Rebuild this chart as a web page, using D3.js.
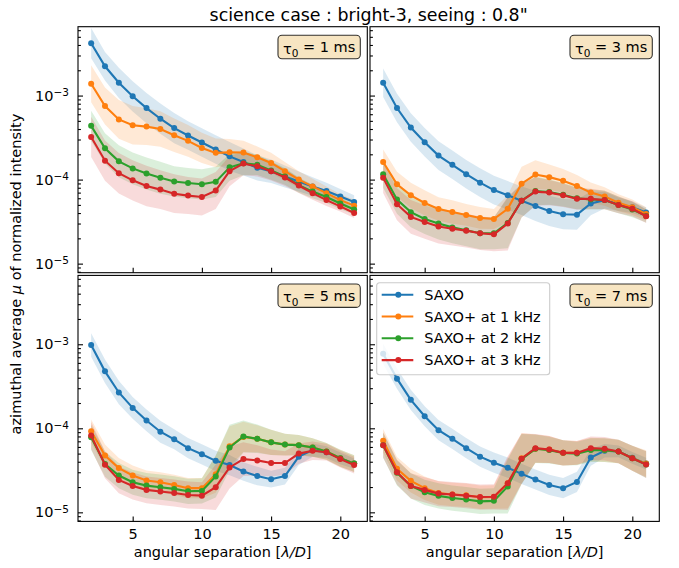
<!DOCTYPE html>
<html>
<head>
<meta charset="utf-8">
<script src="https://cdn.jsdelivr.net/npm/d3@7"></script>
<style>
  body { margin: 0; background: #fff; }
  text { font-family: "DejaVu Sans", sans-serif; }
</style>
</head>
<body>
<div id="chart-area"></div>
<script>
/*
 *    coronagraph contrast curves, 4 panels
 */

// separation in lambda/D
const separation = [2, 3, 4, 5, 6, 7, 8, 9, 10, 11, 12, 13, 14, 15, 16, 17, 18, 19, 20, 21];
const seriesNames = ["SAXO", "SAXO+ at 1 kHz", "SAXO+ at 2 kHz", "SAXO+ at 3 kHz"];
const tau0 = [1, 3, 5, 7];
const xTicks = [5, 10, 15, 20];
const yTicks = [1e-5, 1e-4, 1e-3];

// tau0 = 1 ms
const t1_saxo = [4.2e-3, 2.23e-3, 1.42e-3, 9.8e-4, 7.1e-4, 5.3e-4, 4.1e-4, 3.35e-4, 2.76e-4, 2.28e-4, 1.89e-4, 1.62e-4, 1.38e-4, 1.26e-4, 1.09e-4, 9.5e-5, 8.3e-5, 7.3e-5, 6.3e-5, 5.4e-5];
const t1_1k = [1.38e-3, 7.5e-4, 5.2e-4, 4.43e-4, 4.27e-4, 4.0e-4, 3.37e-4, 2.89e-4, 2.38e-4, 2.08e-4, 2.11e-4, 2.1e-4, 1.84e-4, 1.58e-4, 1.26e-4, 1.0e-4, 8.3e-5, 6.9e-5, 5.7e-5, 4.9e-5];
const t1_2k = [4.36e-4, 2.36e-4, 1.65e-4, 1.36e-4, 1.18e-4, 1.05e-4, 9.5e-5, 9.1e-5, 8.8e-5, 9.4e-5, 1.4e-4, 1.56e-4, 1.5e-4, 1.28e-4, 1.09e-4, 8.6e-5, 7.2e-5, 6.2e-5, 5.2e-5, 4.4e-5];
const t1_3k = [3.22e-4, 1.68e-4, 1.19e-4, 9.8e-5, 8.4e-5, 7.6e-5, 6.8e-5, 6.45e-5, 6.2e-5, 7.4e-5, 1.26e-4, 1.55e-4, 1.44e-4, 1.26e-4, 1.06e-4, 8.5e-5, 6.9e-5, 5.7e-5, 4.8e-5, 4.0e-5];

// tau0 = 3 ms
const t3_saxo = [1.42e-3, 7.1e-4, 4.16e-4, 2.78e-4, 1.93e-4, 1.5e-4, 1.16e-4, 9.2e-5, 7.5e-5, 6.5e-5, 5.6e-5, 4.86e-5, 4.24e-5, 3.87e-5, 3.83e-5, 5.2e-5, 5.7e-5, 5.1e-5, 4.7e-5, 4.05e-5];
const t3_1k = [1.62e-4, 8.8e-5, 6.5e-5, 5.27e-5, 4.48e-5, 4.12e-5, 3.8e-5, 3.5e-5, 3.4e-5, 4.5e-5, 8.95e-5, 1.15e-4, 1.07e-4, 9.7e-5, 8.4e-5, 7.0e-5, 6.3e-5, 5.3e-5, 4.7e-5, 3.9e-5];
const t3_2k = [1.16e-4, 5.8e-5, 4.1e-5, 3.4e-5, 3.0e-5, 2.7e-5, 2.5e-5, 2.3e-5, 2.3e-5, 3.05e-5, 5.6e-5, 7.3e-5, 7.1e-5, 6.6e-5, 6.0e-5, 5.8e-5, 5.7e-5, 5.0e-5, 4.4e-5, 3.7e-5];
const t3_3k = [1.05e-4, 5.1e-5, 3.6e-5, 3.13e-5, 2.76e-5, 2.6e-5, 2.47e-5, 2.3e-5, 2.23e-5, 3.0e-5, 5.6e-5, 7.2e-5, 7.0e-5, 6.5e-5, 5.9e-5, 5.9e-5, 5.7e-5, 5.0e-5, 4.5e-5, 3.66e-5];

// tau0 = 5 ms
const t5_saxo = [9.8e-4, 4.76e-4, 2.67e-4, 1.75e-4, 1.24e-4, 9.1e-5, 7.4e-5, 5.8e-5, 4.9e-5, 4.1e-5, 3.65e-5, 3.06e-5, 2.7e-5, 2.48e-5, 2.7e-5, 4.6e-5, 5.5e-5, 5.2e-5, 4.4e-5, 3.8e-5];
const t5_1k = [9.2e-5, 4.75e-5, 3.36e-5, 2.74e-5, 2.39e-5, 2.28e-5, 2.12e-5, 1.94e-5, 1.94e-5, 2.84e-5, 6.1e-5, 7.9e-5, 7.5e-5, 6.8e-5, 6.4e-5, 6.3e-5, 5.9e-5, 5.3e-5, 4.4e-5, 3.8e-5];
const t5_2k = [7.8e-5, 3.75e-5, 2.74e-5, 2.28e-5, 2.08e-5, 1.99e-5, 1.9e-5, 1.78e-5, 1.8e-5, 2.67e-5, 5.9e-5, 8.0e-5, 7.5e-5, 6.8e-5, 6.4e-5, 6.3e-5, 5.9e-5, 5.3e-5, 4.4e-5, 3.8e-5];
const t5_3k = [8.2e-5, 3.68e-5, 2.43e-5, 2.06e-5, 1.85e-5, 1.77e-5, 1.7e-5, 1.61e-5, 1.58e-5, 1.99e-5, 3.42e-5, 4.3e-5, 4.15e-5, 3.86e-5, 3.86e-5, 5.0e-5, 5.4e-5, 5.2e-5, 4.3e-5, 3.65e-5];

// tau0 = 7 ms
const t7_saxo = [7.7e-4, 3.9e-4, 2.18e-4, 1.39e-4, 9.5e-5, 7.5e-5, 5.8e-5, 4.6e-5, 3.9e-5, 3.4e-5, 2.87e-5, 2.46e-5, 2.12e-5, 1.94e-5, 2.3e-5, 4.5e-5, 5.4e-5, 5.3e-5, 4.45e-5, 3.8e-5];
const t7_1k = [7.1e-5, 3.3e-5, 2.37e-5, 1.94e-5, 1.7e-5, 1.63e-5, 1.6e-5, 1.51e-5, 1.52e-5, 2.22e-5, 4.4e-5, 5.7e-5, 5.6e-5, 5.1e-5, 5.1e-5, 5.6e-5, 5.5e-5, 5.3e-5, 4.4e-5, 3.8e-5];
const t7_2k = [6.3e-5, 2.95e-5, 2.06e-5, 1.73e-5, 1.57e-5, 1.48e-5, 1.42e-5, 1.35e-5, 1.37e-5, 2.03e-5, 4.3e-5, 5.7e-5, 5.5e-5, 5.1e-5, 5.0e-5, 5.5e-5, 5.5e-5, 5.3e-5, 4.4e-5, 3.7e-5];
const t7_3k = [6.3e-5, 3.0e-5, 2.06e-5, 1.85e-5, 1.67e-5, 1.63e-5, 1.58e-5, 1.52e-5, 1.53e-5, 2.22e-5, 4.34e-5, 5.8e-5, 5.6e-5, 5.1e-5, 5.1e-5, 5.8e-5, 5.7e-5, 5.3e-5, 4.4e-5, 3.7e-5];

// half width of the shaded dispersion, in decades
const t1_saxo_sd = [0.18, 0.17, 0.18, 0.18, 0.18, 0.18, 0.18, 0.17, 0.17, 0.17, 0.17, 0.16, 0.15, 0.14, 0.13, 0.12, 0.11, 0.10, 0.09, 0.08];
const t1_1k_sd = [0.22, 0.22, 0.23, 0.23, 0.22, 0.21, 0.20, 0.19, 0.18, 0.17, 0.16, 0.14, 0.13, 0.12, 0.11, 0.10, 0.09, 0.08, 0.07, 0.07];
const t1_2k_sd = [0.18, 0.18, 0.19, 0.19, 0.19, 0.19, 0.18, 0.18, 0.18, 0.18, 0.16, 0.14, 0.12, 0.11, 0.10, 0.09, 0.08, 0.07, 0.07, 0.06];
const t1_3k_sd = [0.24, 0.24, 0.24, 0.24, 0.24, 0.23, 0.23, 0.22, 0.22, 0.22, 0.18, 0.14, 0.12, 0.11, 0.10, 0.09, 0.08, 0.07, 0.06, 0.06];

const t3_saxo_sd = [0.17, 0.17, 0.17, 0.17, 0.17, 0.17, 0.17, 0.17, 0.17, 0.17, 0.17, 0.18, 0.18, 0.18, 0.18, 0.14, 0.10, 0.08, 0.07, 0.06];
const t3_1k_sd = [0.15, 0.15, 0.15, 0.15, 0.14, 0.14, 0.13, 0.13, 0.12, 0.16, 0.20, 0.17, 0.15, 0.14, 0.13, 0.12, 0.11, 0.10, 0.09, 0.08];
const t3_2k_sd = [0.16, 0.17, 0.18, 0.18, 0.19, 0.19, 0.19, 0.19, 0.19, 0.30, 0.20, 0.17, 0.15, 0.14, 0.13, 0.12, 0.11, 0.10, 0.09, 0.08];
const t3_3k_sd = [0.18, 0.19, 0.20, 0.20, 0.20, 0.20, 0.20, 0.20, 0.20, 0.32, 0.20, 0.17, 0.15, 0.14, 0.13, 0.12, 0.11, 0.10, 0.09, 0.08];

const t5_saxo_sd = [0.14, 0.14, 0.14, 0.13, 0.13, 0.13, 0.12, 0.12, 0.12, 0.12, 0.12, 0.11, 0.11, 0.10, 0.10, 0.10, 0.08, 0.07, 0.07, 0.06];
const t5_1k_sd = [0.14, 0.13, 0.12, 0.12, 0.12, 0.12, 0.12, 0.12, 0.12, 0.22, 0.24, 0.18, 0.16, 0.15, 0.13, 0.12, 0.11, 0.10, 0.10, 0.10];
const t5_2k_sd = [0.15, 0.15, 0.15, 0.15, 0.15, 0.15, 0.15, 0.15, 0.15, 0.25, 0.27, 0.19, 0.17, 0.15, 0.13, 0.12, 0.11, 0.10, 0.10, 0.10];
const t5_3k_sd = [0.16, 0.16, 0.16, 0.16, 0.16, 0.16, 0.16, 0.16, 0.16, 0.27, 0.25, 0.20, 0.18, 0.16, 0.14, 0.12, 0.11, 0.10, 0.10, 0.10];

const t7_saxo_sd = [0.12, 0.12, 0.12, 0.12, 0.12, 0.12, 0.12, 0.12, 0.12, 0.12, 0.12, 0.12, 0.12, 0.12, 0.12, 0.10, 0.08, 0.07, 0.07, 0.07];
const t7_1k_sd = [0.14, 0.14, 0.14, 0.14, 0.14, 0.14, 0.14, 0.14, 0.14, 0.30, 0.30, 0.17, 0.16, 0.15, 0.14, 0.14, 0.14, 0.14, 0.15, 0.16];
const t7_2k_sd = [0.15, 0.15, 0.15, 0.15, 0.15, 0.15, 0.15, 0.15, 0.15, 0.32, 0.30, 0.17, 0.16, 0.15, 0.14, 0.14, 0.14, 0.14, 0.15, 0.16];
const t7_3k_sd = [0.15, 0.15, 0.15, 0.15, 0.15, 0.15, 0.15, 0.15, 0.15, 0.32, 0.30, 0.17, 0.16, 0.15, 0.14, 0.14, 0.14, 0.14, 0.15, 0.16];

const panelMeans = [
    [t1_saxo, t1_1k, t1_2k, t1_3k],
    [t3_saxo, t3_1k, t3_2k, t3_3k],
    [t5_saxo, t5_1k, t5_2k, t5_3k],
    [t7_saxo, t7_1k, t7_2k, t7_3k]
];
const panelSpread = [
    [t1_saxo_sd, t1_1k_sd, t1_2k_sd, t1_3k_sd],
    [t3_saxo_sd, t3_1k_sd, t3_2k_sd, t3_3k_sd],
    [t5_saxo_sd, t5_1k_sd, t5_2k_sd, t5_3k_sd],
    [t7_saxo_sd, t7_1k_sd, t7_2k_sd, t7_3k_sd]
];

var colours = ["#1f77b4", "#ff7f0e", "#2ca02c", "#d62728"];

const width = 679;
const height = 568;
const plotLeft = 78, plotTop = 26.7;
const colW = 289.3, rowH = 246, gap = 2.7;
const fs = 14.5;

const svg = d3.select("#chart-area")
    .append("svg")
    .attr("width", width)
    .attr("height", height);

const x = d3.scaleLinear().domain([1.05, 21.95]).range([0, colW]);
const y = d3.scaleLog().domain([7.8e-6, 6.6e-3]).range([rowH, 0]);

// minor log ticks
var minors = [];
for (let e = -6; e <= -3; e++) {
    for (let m = 2; m <= 9; m++) {
        let v = m * Math.pow(10, e);
        if (v > y.domain()[0] && v < y.domain()[1]) minors.push(v);
    }
}

const area = d3.area()
    .x((d) => x(d.sep))
    .y0((d) => y(d.mu / Math.pow(10, d.sd)))
    .y1((d) => y(d.mu * Math.pow(10, d.sd)));
const line = d3.line()
    .x((d) => x(d.sep))
    .y((d) => y(d.mu));

tau0.forEach((tau, p) => {
    const col = p % 2, row = Math.floor(p / 2);
    const g = svg.append("g")
        .attr("transform", "translate(" + (plotLeft + col * (colW + gap)) + ", " + (plotTop + row * (rowH + gap)) + ")");

    g.append("clipPath").attr("id", "clip" + p)
        .append("rect").attr("width", colW).attr("height", rowH);

    const series = panelMeans[p].map((mu, s) =>
        separation.map((sep, i) => ({ sep: sep, mu: mu[i], sd: panelSpread[p][s][i] })));

    const plot = g.append("g").attr("clip-path", "url(#clip" + p + ")");

    plot.selectAll(".band")
        .data(series)
        .enter()
        .append("path")
        .attr("class", "band")
        .attr("d", area)
        .attr("fill", (d, i) => colours[i])
        .attr("fill-opacity", 0.17);

    series.forEach((d, s) => {
        plot.append("path")
            .attr("d", line(d))
            .attr("fill", "none")
            .attr("stroke", colours[s])
            .attr("stroke-width", 2.1);
        plot.selectAll(".dot" + s)
            .data(d)
            .enter()
            .append("circle")
            .attr("cx", (v) => x(v.sep))
            .attr("cy", (v) => y(v.mu))
            .attr("r", 3)
            .attr("fill", colours[s]);
    });

    // axes, ticks inward
    const bottomAxis = d3.axisBottom(x).tickValues(xTicks).tickSizeInner(-5).tickSizeOuter(0).tickPadding(7);
    if (row == 0) bottomAxis.tickFormat("");
    const xa = g.append("g")
        .attr("transform", "translate(0, " + rowH + ")")
        .call(bottomAxis);
    xa.select(".domain").remove();
    xa.selectAll("text").attr("font-size", fs + "px").attr("font-family", "DejaVu Sans").style("fill", "black");

    const leftAxis = d3.axisLeft(y).tickValues(yTicks).tickSizeInner(-5).tickSizeOuter(0).tickPadding(9);
    const ya = g.append("g").call(leftAxis);
    ya.select(".domain").remove();
    ya.selectAll("text").each(function (d) {
        const t = d3.select(this).text("")
            .attr("font-size", fs + "px").attr("font-family", "DejaVu Sans").style("fill", "black");
        if (col == 1) return;
        t.append("tspan").text("10");
        t.append("tspan").attr("dy", "-0.45em").attr("font-size", "10.5px").text("\u2212" + Math.round(-Math.log10(d)));
    });

    const ym = g.append("g").call(d3.axisLeft(y).tickValues(minors).tickSizeInner(-2.9).tickSizeOuter(0).tickFormat(""));
    ym.select(".domain").remove();

    g.selectAll(".tick line").attr("stroke-width", 1.1);

    g.append("rect")
        .attr("width", colW).attr("height", rowH)
        .attr("fill", "none").attr("stroke", "black").attr("stroke-width", 1.1);

    // tau0 label box
    const box = g.append("g");
    const lbl = box.append("text")
        .attr("x", colW - 12).attr("y", 27)
        .attr("text-anchor", "end")
        .attr("font-size", fs + "px");
    lbl.append("tspan").text("\u03c4");
    lbl.append("tspan").attr("dy", "0.3em").attr("font-size", "10.5px").text("0");
    lbl.append("tspan").attr("dy", "-0.3em").text(" = " + tau + " ms");
    const bb = lbl.node().getBBox();
    box.insert("rect", "text")
        .attr("x", bb.x - 5).attr("y", 8.6)
        .attr("width", bb.width + 10).attr("height", 23.4)
        .attr("rx", 4)
        .attr("fill", "#f5deb3").attr("fill-opacity", 0.8)
        .attr("stroke", "black").attr("stroke-opacity", 0.8).attr("stroke-width", 1.1);

    if (p == 3) {
        const leg = g.append("g").attr("transform", "translate(6.7, 7.3)");
        leg.append("rect")
            .attr("width", 173).attr("height", 92).attr("rx", 3)
            .attr("fill", "white").attr("fill-opacity", 0.8)
            .attr("stroke", "#cccccc").attr("stroke-width", 1.1);
        seriesNames.forEach((name, i) => {
            const ly = 12 + i * 21.8;
            leg.append("line")
                .attr("x1", 5).attr("x2", 36.6).attr("y1", ly).attr("y2", ly)
                .attr("stroke", colours[i]).attr("stroke-width", 2.1);
            leg.append("circle").attr("cx", 21.6).attr("cy", ly).attr("r", 3).attr("fill", colours[i]);
            leg.append("text")
                .attr("x", 47.5).attr("y", ly).attr("dy", "0.35em")
                .attr("font-size", fs + "px")
                .text(name);
        });
    }
});

/** Labeling */
svg.append("text")
    .attr("x", plotLeft + colW + gap / 2)
    .attr("y", 20.5)
    .attr("text-anchor", "middle")
    .attr("font-size", "17.4px")
    .text("science case : bright-3, seeing : 0.8\"");

const yl = svg.append("text")
    .attr("transform", "translate(21, " + (plotTop + rowH + gap / 2) + ") rotate(-90)")
    .attr("text-anchor", "middle")
    .attr("font-size", fs + "px");
yl.append("tspan").text("azimuthal average ");
yl.append("tspan").attr("font-style", "italic").text("\u03bc");
yl.append("tspan").text(" of normalized intensity");

[0, 1].forEach((c) => {
    const xl = svg.append("text")
        .attr("x", plotLeft + c * (colW + gap) + colW / 2)
        .attr("y", 557)
        .attr("text-anchor", "middle")
        .attr("font-size", fs + "px");
    xl.append("tspan").text("angular separation [");
    xl.append("tspan").attr("font-style", "italic").text("\u03bb/D");
    xl.append("tspan").text("]");
});
</script>
</body>
</html>
